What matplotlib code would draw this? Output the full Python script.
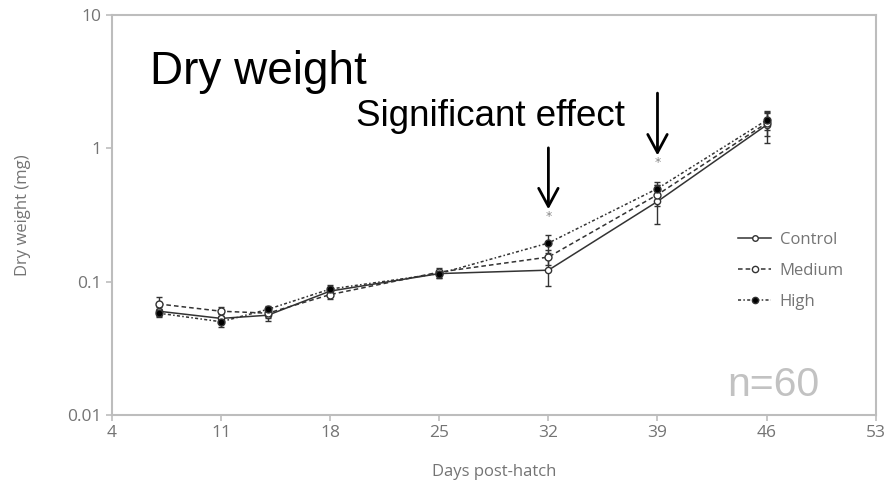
import matplotlib
matplotlib.use("Agg")
import matplotlib.pyplot as plt
from matplotlib.lines import Line2D
from matplotlib.ticker import FixedLocator, FixedFormatter, NullLocator

# dry weight (mg) per treatment, by day post-hatch
days = [7, 11, 14, 18, 25, 32, 39, 46]
control = [0.060, 0.053, 0.056, 0.085, 0.115, 0.122, 0.40, 1.50]
medium = [0.068, 0.060, 0.058, 0.080, 0.118, 0.153, 0.45, 1.55]
high = [0.058, 0.050, 0.062, 0.088, 0.115, 0.195, 0.50, 1.63]
control_err = [0.005, 0.004, 0.005, 0.006, 0.008, 0.030, 0.13, 0.40]
medium_err = [0.009, 0.005, 0.005, 0.006, 0.008, 0.020, 0.08, 0.30]
high_err = [0.004, 0.004, 0.004, 0.006, 0.008, 0.030, 0.06, 0.25]

# significance marks (*) above days 32 and 39
sig_days = [32, 39]
sig_vals = [0.31, 0.78]

xticks = [4, 11, 18, 25, 32, 39, 46, 53]
yticks = [0.01, 0.1, 1, 10]
ytick_labels = ["0.01", "0.1", "1", "10"]

W, H = 889, 491
gray = "#747474"
line_col = "#333333"

fig = plt.figure(figsize=(W / 100, H / 100), dpi=100)
ax = fig.add_axes([0.126, 0.155, 0.859, 0.814])

styles = [
    ("Control", control, control_err, "-", "white", 4.5),
    ("Medium", medium, medium_err, (0, (3, 2)), "white", 5),
    ("High", high, high_err, (0, (2, 1.5, 1, 1.5)), "black", 5),
]
handles = []
for name, vals, err, ls, fill, ms in styles:
    ax.errorbar(days, vals, yerr=err, color=line_col, lw=1.1, ls=ls,
                marker="o", ms=ms, mfc=fill, mec=line_col, capsize=2,
                elinewidth=1.0)
    handles.append(Line2D([], [], color=line_col, lw=1.1, ls=ls, marker="o",
                          ms=ms - 0.5, mfc=fill, mec=line_col, label=name))

for d, v in zip(sig_days, sig_vals):
    ax.text(d, v, "*", color="#888888", fontsize=9, ha="center", va="center")

ax.set_yscale("log")
ax.set_xlim(4, 53)
ax.set_ylim(0.01, 10)
ax.yaxis.set_major_locator(FixedLocator(yticks))
ax.yaxis.set_major_formatter(FixedFormatter(ytick_labels))
ax.yaxis.set_minor_locator(NullLocator())
ax.set_xticks(xticks)

for s in ax.spines.values():
    s.set_color("#bdbdbd")
    s.set_linewidth(1.5)
ax.tick_params(colors="#bdbdbd", labelcolor=gray, labelsize=12.5, length=4, width=1.2)
for lab in ax.get_xticklabels() + ax.get_yticklabels():
    lab.set_family("Open Sans")

ax.set_xlabel("Days post-hatch", fontsize=12, color=gray, family="Open Sans", labelpad=16)
ax.set_ylabel("Dry weight (mg)", fontsize=12, color=gray, family="Open Sans", labelpad=26)

leg = ax.legend(handles=handles, loc="center left", bbox_to_anchor=(0.8, 0.36),
                frameon=False, handlelength=2.0, handletextpad=0.5, labelspacing=0.9,
                prop={"family": "Open Sans", "size": 12})
for t in leg.get_texts():
    t.set_color(gray)

# slide annotations, placed in pixel coordinates from the top-left
def px(x, y):
    return x / W, 1 - y / H

fig.text(*px(150, 84), "Dry weight", fontsize=33, family="Liberation Sans",
         color="black", va="baseline")
fig.text(*px(356, 126), "Significant effect", fontsize=26.5,
         family="Liberation Sans", color="black", va="baseline")
fig.text(*px(727, 396), "n=60", fontsize=29.5, family="Liberation Sans",
         color="#c2c2c2", va="baseline")

for d, tail, tip in [(32, 1.06, 0.333), (39, 2.73, 0.845)]:
    ax.annotate("", xy=(d, tip), xytext=(d, tail),
                arrowprops=dict(arrowstyle="->,head_length=1.3,head_width=0.7",
                                color="black", lw=2))

fig.savefig("out.png", dpi=100)
